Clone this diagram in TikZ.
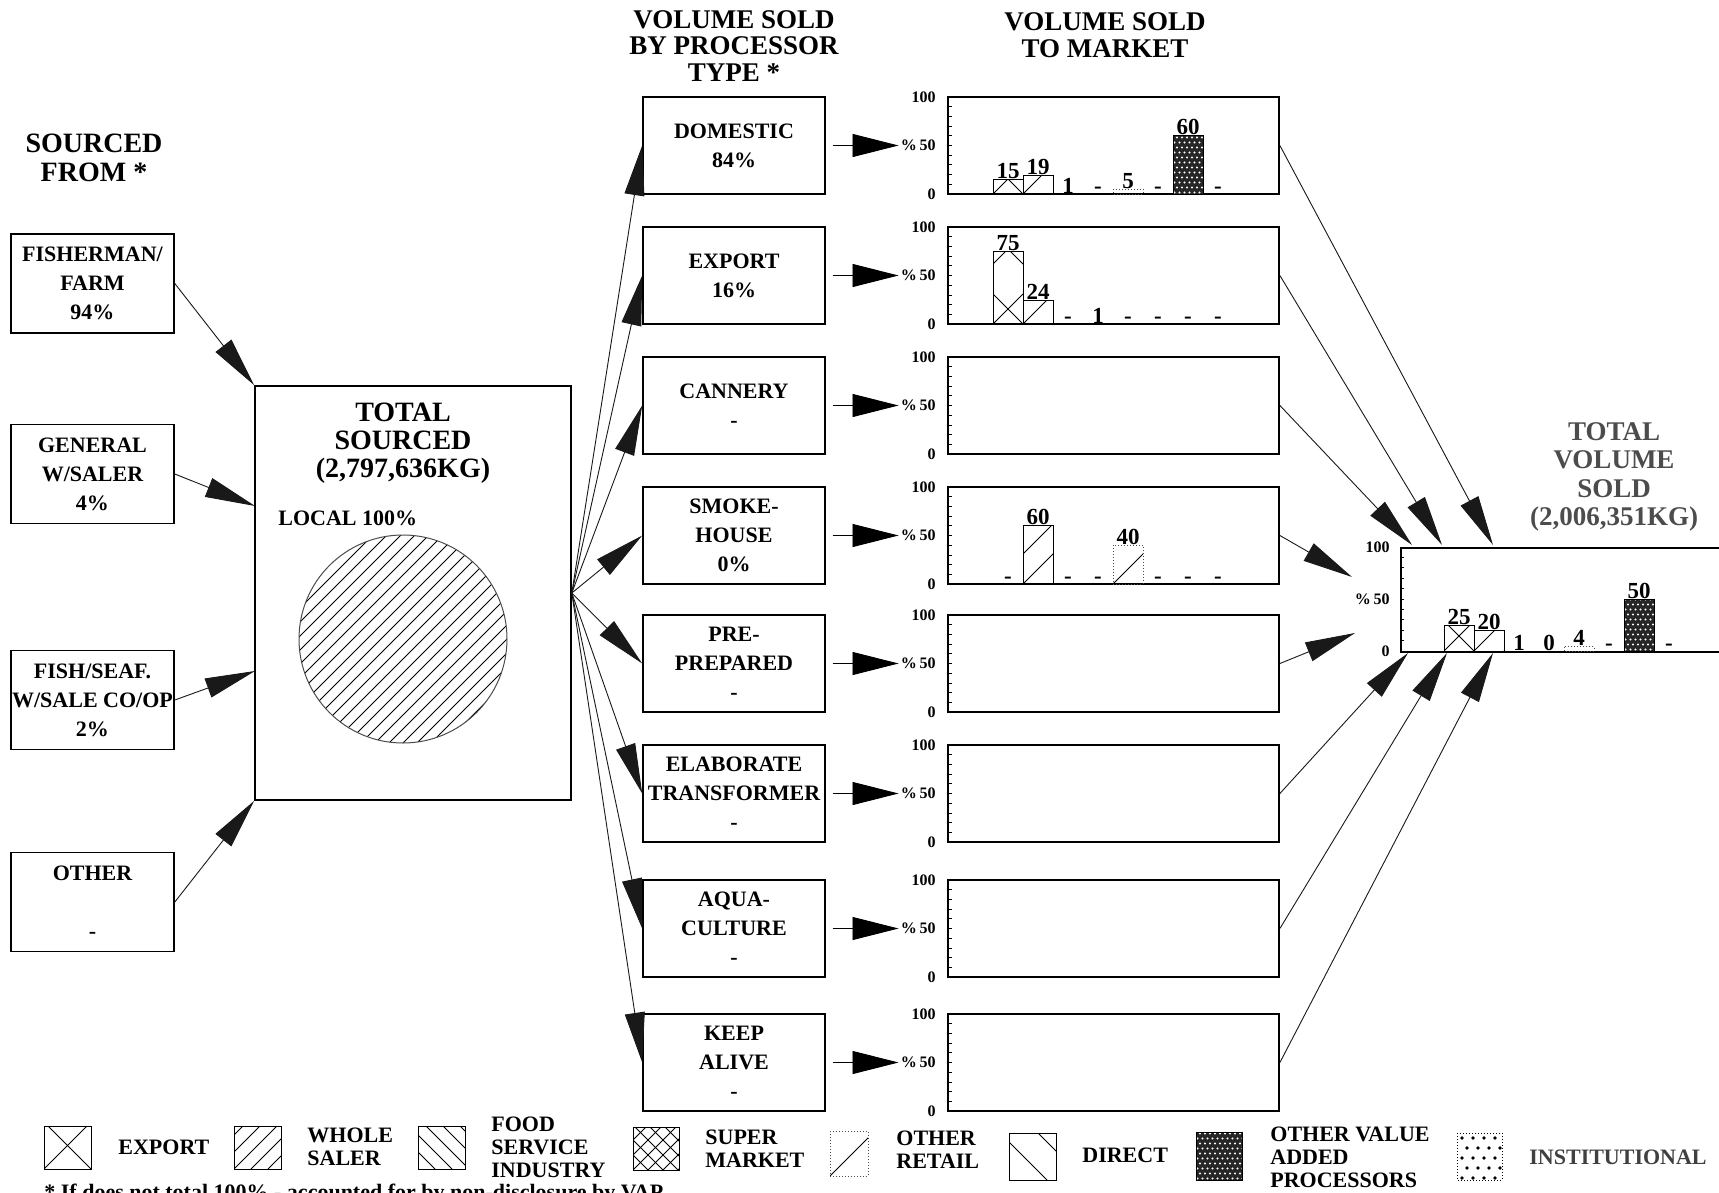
\documentclass[tikz,border=0pt]{standalone}
\usepackage{fontspec}
\setmainfont{Liberation Serif}
\usetikzlibrary{arrows.meta}
\tikzset{
  pl/.style={line width=0.5pt},
  bfn/.style={font=\bfseries\fontsize{11}{14.5}\selectfont},
  ttl/.style={font=\bfseries\fontsize{13.5}{13.3}\selectfont, align=center, inner sep=0pt},
  pbox/.style={draw, line width=0.8pt, minimum width=91pt, minimum height=48.5pt, align=center, bfn, inner sep=0pt},
  sbox/.style={draw, line width=0.8pt, minimum width=81.5pt, minimum height=49.5pt, align=center, bfn, inner sep=0pt},
  chartbox/.style={draw, line width=0.9pt, minimum width=165.5pt, minimum height=48.5pt, inner sep=0pt},
  axl/.style={font=\bfseries\fontsize{8}{9}\selectfont, anchor=east, inner sep=0pt},
  val/.style={font=\bfseries\fontsize{11.5}{12}\selectfont, anchor=base, inner sep=0pt},
  bigarr/.style={line width=0.45pt, black!90, -{Triangle[length=25pt,width=10pt]}},
  smallarr/.style={line width=0.45pt, -{Triangle[length=23pt,width=11.5pt]}, shorten <=3.5pt, shorten >=1pt},
  lg/.style={font=\bfseries\fontsize{11}{11.5}\selectfont, align=left, anchor=west, inner sep=0pt},
}
\newcommand\hX[4]{\begin{scope}\clip (#1,#2) rectangle (#3,#4);
  \foreach \k in {-3,...,3}{\draw[pl] ({#1+(\k)*60},#4) -- ++(200,-200);
    \draw[pl] ({#3+(\k)*60},#4) -- ++(-200,-200);}\end{scope}}
\newcommand\hF[5]{\begin{scope}\clip (#1,#2) rectangle (#3,#4);
  \foreach \k in {-16,...,16}{\draw[pl] ({#1+(\k)*#5},#4) -- ++(250,-250);}\end{scope}}
\newcommand\hB[5]{\begin{scope}\clip (#1,#2) rectangle (#3,#4);
  \foreach \k in {-16,...,16}{\draw[pl] ({#1+(\k)*#5},#4) -- ++(-250,-250);}\end{scope}}
\newcommand\vapfill[4]{\fill[black!85] (#1,#2) rectangle (#3,#4);
  \begin{scope}\clip (#1,#2) rectangle (#3,#4);
  \foreach \i in {0,...,10}{\foreach \j in {0,...,20}{\fill[white] ({#1+1.5+\i*5+mod(\j,2)*2.5},{#4-1.5-\j*5}) circle (0.55pt);}}\end{scope}
  \draw[pl] (#1,#2) rectangle (#3,#4);}
\newcommand\instfill[4]{\begin{scope}\clip (#1,#2) rectangle (#3,#4);
  \foreach \i in {0,...,4}{\foreach \j in {0,...,4}{\fill ({#1+5+\i*11+mod(\j,2)*5},{#2+5+\j*10}) circle (0.9pt);}}\end{scope}
  \draw[pl, densely dotted] (#1,#2) rectangle (#3,#4);}
\begin{document}
\begin{tikzpicture}[x=0.5pt,y=-0.5pt]
\clip (0,0) rectangle (1719,1193);
\fill[white] (0,0) rectangle (1719,1193);

% titles
\node[ttl, font=\bfseries\fontsize{14}{14.5}\selectfont] (tA) at (94,158) {SOURCED\\FROM *};
\node[ttl] (tB) at (734,46) {VOLUME SOLD\\BY PROCESSOR\\TYPE *};
\node[ttl] (tC) at (1105,35) {VOLUME SOLD\\TO MARKET};
\node[ttl, black!70, font=\bfseries\fontsize{13.5}{14.2}\selectfont] (tD) at (1614,477) {TOTAL\\VOLUME\\SOLD\\(2,006,351KG)};

% source boxes
\node[sbox] (s1) at (92.5,283.5) {FISHERMAN/\\FARM\\94\%};
\node[sbox] (s2) at (92.5,474) {GENERAL\\W/SALER\\4\%};
\node[sbox] (s3) at (92.5,700) {FISH/SEAF.\\W/SALE CO/OP\\2\%};
\node[sbox] (s4) at (92.5,902) {OTHER\\\strut\\-};

% total sourced
\node[draw, line width=0.8pt, minimum width=158pt, minimum height=207pt, inner sep=0pt] (tot) at (413,593) {};
\node[ttl, font=\bfseries\fontsize{14}{14}\selectfont] (totT) at (403,443) {TOTAL\\SOURCED\\(2,797,636KG)};
\node[bfn, anchor=west, inner sep=0pt] (loc) at (278,518) {LOCAL 100\%};
\begin{scope}
\clip (403,639) circle (52pt);
\foreach \k in {-17,...,17}{\draw[pl] ({403+(\k)*14},743) -- ++(260,-260);}
\end{scope}
\draw[line width=0.5pt, black!70] (403,639) circle (52pt);

\coordinate (ta2) at (255,506);
\coordinate (ta3) at (255,671);
\draw[bigarr] (s1.east) -- (tot.north west);
\draw[bigarr] (s2.east) -- (ta2);
\draw[bigarr] (s3.east) -- (ta3);
\draw[bigarr] (s4.east) -- (tot.south west);

% processor boxes
\node[pbox] (b1) at (734,145.5) {DOMESTIC\\84\%};
\node[pbox] (b2) at (734,275.5) {EXPORT\\16\%};
\node[pbox] (b3) at (734,405.5) {CANNERY\\-};
\node[pbox] (b4) at (734,535.5) {SMOKE-\\HOUSE\\0\%};
\node[pbox] (b5) at (734,663.5) {PRE-\\PREPARED\\-};
\node[pbox] (b6) at (734,793.5) {ELABORATE\\TRANSFORMER\\-};
\node[pbox] (b7) at (734,928.5) {AQUA-\\CULTURE\\-};
\node[pbox] (b8) at (734,1062.5) {KEEP\\ALIVE\\-};

\foreach \i in {1,...,8}{\draw[bigarr] (tot.east) -- (b\i.west);}

% charts
\foreach \i/\y in {1/145.5,2/275.5,3/405.5,4/535.5,5/663.5,6/793.5,7/928.5,8/1062.5}{
  \node[chartbox] (c\i) at (1113.5,\y) {};
  \node[axl] (h\i) at (936,{\y-48.5}) {100};
  \node[axl] (m\i) at (936,\y) {\%\,50};
  \node[axl] (z\i) at (936,{\y+48.5}) {0};
  \draw[smallarr] (b\i.east) -- (m\i.west);
  \foreach \t in {1,...,9}{\draw[line width=0.4pt] (948,{\y+48.5-\t*9.7}) -- ++(4,0);}
}

% total chart
\node[draw, line width=0.9pt, minimum width=170pt, minimum height=52pt, inner sep=0pt, anchor=north west] (ct) at (1400,547) {};
\node[axl] (th) at (1390,547) {100};
\node[axl] (tm) at (1390,599) {\%\,50};
\node[axl] (tz) at (1390,651) {0};
\foreach \t in {1,...,9}{\draw[line width=0.4pt] (1400,{651-\t*10.4}) -- ++(4,0);}

\coordinate (q1) at (1493,545);
\coordinate (q2) at (1442,545);
\coordinate (q3) at (1412,545);
\coordinate (q4) at (1352,577);
\coordinate (q5) at (1355,633);
\coordinate (q6) at (1408,653);
\coordinate (q7) at (1447,653);
\coordinate (q8) at (1493,653);
\foreach \i in {1,...,8}{\draw[bigarr] (c\i.east) -- (q\i);}

% domestic bars (bottom 194)
\hX{993}{179.4}{1023}{194}\draw[pl] (993,179.4) rectangle (1023,194);
\hF{1023}{175.6}{1053}{194}{30}\draw[pl] (1023,175.6) rectangle (1053,194);
\draw[pl, densely dotted, black!70] (1113,189.1) rectangle (1143,194);
\vapfill{1173}{135.8}{1203}{194}
\node[val] (d1) at (1008,178) {15};
\node[val] (d2) at (1038,174.2) {19};
\node[val] (d3) at (1068,193) {1};
\node[val] (d4) at (1098,193) {-};
\node[val] (d5) at (1128,188) {5};
\node[val] (d6) at (1158,193) {-};
\node[val] (d7) at (1188,134.5) {60};
\node[val] (d8) at (1218,193) {-};

% export bars (bottom 324)
\hX{993}{251.2}{1023}{324}\draw[pl] (993,251.2) rectangle (1023,324);
\hF{1023}{300.7}{1053}{324}{30}\draw[pl] (1023,300.7) rectangle (1053,324);
\node[val] (e1) at (1008,250) {75};
\node[val] (e2) at (1038,299.5) {24};
\node[val] (e3) at (1068,323) {-};
\node[val] (e4) at (1098,323) {1};
\node[val] (e5) at (1128,323) {-};
\node[val] (e6) at (1158,323) {-};
\node[val] (e7) at (1188,323) {-};
\node[val] (e8) at (1218,323) {-};

% smokehouse bars (bottom 584)
\hF{1023}{525.8}{1053}{584}{30}\draw[pl] (1023,525.8) rectangle (1053,584);
\hF{1113}{545.2}{1143}{584}{45}\draw[pl, densely dotted, black!70] (1113,545.2) rectangle (1143,584);
\node[val] (k1) at (1008,583) {-};
\node[val] (k2) at (1038,524.5) {60};
\node[val] (k3) at (1068,583) {-};
\node[val] (k4) at (1098,583) {-};
\node[val] (k5) at (1128,544) {40};
\node[val] (k6) at (1158,583) {-};
\node[val] (k7) at (1188,583) {-};
\node[val] (k8) at (1218,583) {-};

% total bars (bottom 651)
\hX{1444}{625}{1474}{651}\draw[pl] (1444,625) rectangle (1474,651);
\hF{1474}{630.2}{1504}{651}{30}\draw[pl] (1474,630.2) rectangle (1504,651);
\draw[pl, densely dotted, black!70] (1564,646.8) rectangle (1594,651);
\vapfill{1624}{599}{1654}{651}
\node[val] (g1) at (1459,624) {25};
\node[val] (g2) at (1489,629) {20};
\node[val] (g3) at (1519,650) {1};
\node[val] (g4) at (1549,650) {0};
\node[val] (g5) at (1579,645.5) {4};
\node[val] (g6) at (1609,650) {-};
\node[val] (g7) at (1639,598) {50};
\node[val] (g8) at (1669,650) {-};

% legend
\hX{44}{1126}{91}{1169}\draw[pl] (44,1126) rectangle (91,1169);
\node[lg] (l1) at (118,1147) {EXPORT};
\hF{234}{1126}{281}{1169}{17}\draw[pl] (234,1126) rectangle (281,1169);
\node[lg] (l2) at (307,1147) {WHOLE\\SALER};
\hB{418}{1126}{465}{1169}{17}\draw[pl] (418,1126) rectangle (465,1169);
\node[lg] (l3) at (491,1147) {FOOD\\SERVICE\\INDUSTRY};
\hF{633}{1127}{679}{1170}{15}\hB{633}{1127}{679}{1170}{15}\draw[pl] (633,1127) rectangle (679,1170);
\node[lg] (l4) at (705,1149) {SUPER\\MARKET};
\hF{830}{1131}{868}{1176}{60}\draw[pl, densely dotted, black!70] (830,1131) rectangle (868,1176);
\node[lg] (l5) at (896,1150) {OTHER\\RETAIL};
\hB{1009}{1133}{1056}{1180}{38}\draw[pl] (1009,1133) rectangle (1056,1180);
\node[lg] (l6) at (1082,1155) {DIRECT};
\vapfill{1196}{1132}{1242}{1180}
\node[lg] (l7) at (1270,1157) {OTHER VALUE\\ADDED\\PROCESSORS};
\instfill{1457}{1133}{1502}{1180}
\node[lg, black!75] (l8) at (1529,1157) {INSTITUTIONAL};

\node[anchor=north west, inner sep=0pt, font=\bfseries\fontsize{11}{12}\selectfont] (fn) at (44,1184) {* If does not total 100\% - accounted for by non-disclosure by VAP};
\end{tikzpicture}
\end{document}
